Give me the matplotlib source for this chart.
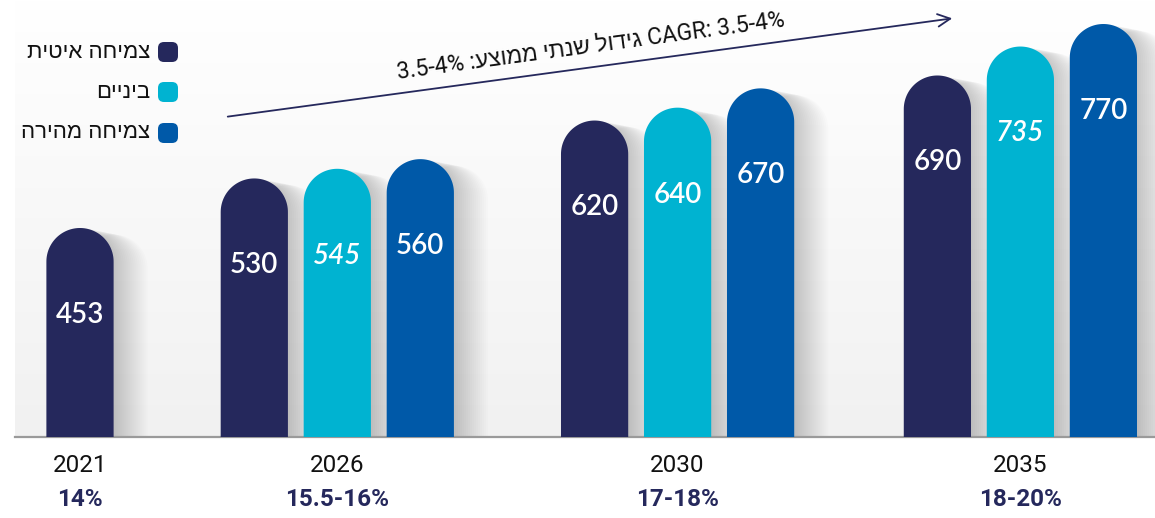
import numpy as np
import matplotlib
matplotlib.use("Agg")
import matplotlib.pyplot as plt
from matplotlib.colors import LinearSegmentedColormap
from matplotlib.patches import FancyBboxPatch
from matplotlib.transforms import IdentityTransform

# Data
YEARS = ["2021", "2026", "2030", "2035"]
SHARES = ["14%", "15.5-16%", "17-18%", "18-20%"]
SLOW = [453, 530, 620, 690]
MID = [None, 545, 640, 735]
FAST = [None, 560, 670, 770]
SERIES_NAMES = ["צמיחה איטית", "ביניים", "צמיחה מהירה"]
CAGR_HEB = "גידול שנתי ממוצע:"

# Style
COLORS = ["#25285c", "#00b3d1", "#0059a8"]
GROUP_POS = [0, 3.1, 7.2, 11.33]   # group centres, in bar-pitch units
BAR_W = 0.81
ITALIC_LABELS = {545, 735}
HEB_FONT = ["Liberation Sans", "DejaVu Sans"]
NUM_FONT = ["Roboto", "Liberation Sans", "DejaVu Sans"]


def rtl(s):
    # matplotlib has no bidi support, so hebrew is written in visual order
    return s[::-1]


def rounded_bar(ax, x, top, w, ry, color, z=3, alpha=1.0):
    rx = w / 2
    t = np.linspace(0, np.pi, 60)
    xs = np.concatenate([[x + rx], x + rx * np.cos(t), [x - rx]])
    ys = np.concatenate([[0], top - ry + ry * np.sin(t), [0]])
    ax.fill(xs, ys, color=color, lw=0, zorder=z, alpha=alpha)


W, H = 1155, 518
fig = plt.figure(figsize=(W / 100, H / 100), dpi=100)
ax = fig.add_axes([15 / W, 81 / H, 1 - 15 / W, 437 / H])
x0 = -65 / 83
ax.set_xlim(x0, x0 + 1140 / 83)
ax.set_ylim(128.2, 807.3)
for s in ["top", "left", "right"]:
    ax.spines[s].set_visible(False)
ax.spines["bottom"].set_color("#9a9a9a")
ax.spines["bottom"].set_linewidth(1.6)
ax.set_xticks([])
ax.set_yticks([])

# soft gray background gradient
bg = LinearSegmentedColormap.from_list("bg", ["#ffffff", "#f8f8f8", "#f1f1f1"])
ax.imshow(np.linspace(0, 1, 256)[:, None], cmap=bg, aspect="auto",
          extent=(*ax.get_xlim(), *ax.get_ylim()), zorder=0)

p0 = ax.transData.transform((0, 0))
p1 = ax.transData.transform((1, 1))
sx, sy = p1[0] - p0[0], p1[1] - p0[1]
ry = (BAR_W / 2) * sx / sy

series = [SLOW, MID, FAST]
for gi, gx in enumerate(GROUP_POS):
    present = [k for k in range(3) if series[k][gi] is not None]
    n = len(present)
    for j, k in enumerate(present):
        v = series[k][gi]
        x = gx + (j - (n - 1) / 2)
        # soft shadow to the right
        for s in range(1, 18):
            rounded_bar(ax, x + s * 2.0 / sx, v - s * 0.4 / sy, BAR_W, ry,
                        "black", z=1, alpha=0.012)
        rounded_bar(ax, x, v, BAR_W, ry, COLORS[k])
        ax.text(x, v - 135, str(v), color="white", fontsize=20,
                family=["Lato", "DejaVu Sans"], fontweight="semibold",
                style="italic" if v in ITALIC_LABELS else "normal",
                ha="center", va="center", zorder=5)

    # year / share labels under the axis
    xf = ax.transData.transform((gx, 200))[0]
    fig.text(xf / W, 1 - 465 / H, YEARS[gi], fontsize=17.5, family=NUM_FONT,
             color="#111111", ha="center", va="center")
    fig.text(xf / W, 1 - 500 / H, SHARES[gi], fontsize=17.5, family=NUM_FONT,
             fontweight="bold", color=COLORS[0], ha="center", va="center")

# legend drawn by hand
for k, cy in enumerate([52, 92, 133]):
    fig.add_artist(FancyBboxPatch((158, H - cy - 10), 20, 20,
                                  boxstyle="round,pad=0,rounding_size=6",
                                  transform=IdentityTransform(),
                                  fc=COLORS[k], ec="none"))
    fig.text(150 / W, 1 - cy / H, rtl(SERIES_NAMES[k]), fontsize=16,
             family=HEB_FONT, color="#111111", ha="right", va="center")

# CAGR arrow
ax.annotate("", xy=(955, H - 18), xytext=(225, H - 117),
            xycoords="figure pixels", textcoords="figure pixels",
            arrowprops=dict(arrowstyle="->,head_length=0.9,head_width=0.45",
                            color=COLORS[0], lw=1.3))
ang = np.degrees(np.arctan2(117 - 18, 955 - 225))
fig.text(591 / W, 1 - 46 / H, "3.5-4% " + rtl(CAGR_HEB) + " CAGR: 3.5-4%",
         rotation=ang, rotation_mode="anchor", fontsize=16.5,
         family=["Roboto", "Liberation Sans"], color="#111111",
         ha="center", va="center")

fig.savefig("out.png", dpi=100)
